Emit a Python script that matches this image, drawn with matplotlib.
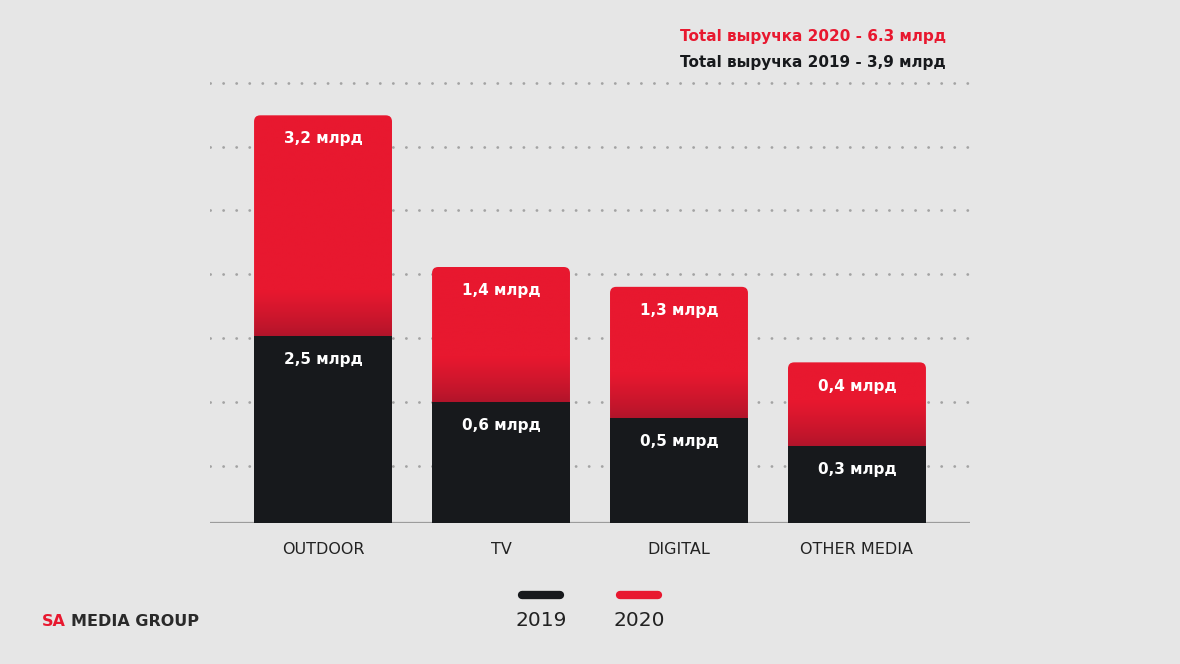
import matplotlib.pyplot as plt
import numpy as np
from matplotlib.patches import FancyBboxPatch, Rectangle
from matplotlib.lines import Line2D

# data (bar heights, in grid steps; labels as printed)
categories = ["OUTDOOR", "TV", "DIGITAL", "OTHER MEDIA"]
bar_2019 = [2.92, 1.89, 1.64, 1.20]
bar_2020 = [3.45, 2.11, 2.05, 1.31]
labels_2019 = ["2,5 млрд", "0,6 млрд", "0,5 млрд", "0,3 млрд"]
labels_2020 = ["3,2 млрд", "1,4 млрд", "1,3 млрд", "0,4 млрд"]
grid_levels = [0.89, 1.89, 2.89, 3.89, 4.89, 5.87, 6.87]
total_2020 = "Total выручка 2020 - 6.3 млрд"
total_2019 = "Total выручка 2019 - 3,9 млрд"
years = ["2019", "2020"]

bg = "#e6e6e6"
black = "#17191c"
red = "#e8182f"
dark_red = "#b0142a"

fig = plt.figure(figsize=(11.8, 6.64), dpi=100, facecolor=bg)
ax = fig.add_axes([210 / 1180, 141 / 664, 760 / 1180, 448 / 664])
ax.set_facecolor(bg)

x = np.arange(len(categories))
width = 0.775

# dotted grid
ax.hlines(grid_levels, -0.635, 3.635, colors="#a3a3a3", linewidth=2.0,
          linestyles=(0, (0.05, 4.65)), zorder=0)
for ln in ax.collections:
    ln.set_capstyle("round")
ax.axhline(0, color="#9c9c9c", linewidth=1.6, zorder=1)

# gradient for red segment (bottom dark -> top red)
n = 200
c_top = np.array(plt.matplotlib.colors.to_rgb(red))
c_bot = np.array(plt.matplotlib.colors.to_rgb(dark_red))

for i in range(len(categories)):
    b = bar_2019[i]
    top = b + bar_2020[i]
    x0 = x[i] - width / 2
    patch = FancyBboxPatch((x0, 0), width, top,
                           boxstyle="round,pad=0,rounding_size=0.035",
                           mutation_aspect=178 / 64, facecolor="none",
                           edgecolor="none", zorder=2)
    ax.add_patch(patch)
    h = bar_2020[i]
    frac = np.clip(np.linspace(0, h, n) / 0.7, 0, 1) ** 0.8
    cols = c_bot[None, :] * (1 - frac[:, None]) + c_top[None, :] * frac[:, None]
    img = ax.imshow(cols[:, None, :], extent=(x0, x0 + width, b, top),
                    origin="lower", aspect="auto", zorder=2,
                    interpolation="bilinear")
    img.set_clip_path(patch)
    ax.add_patch(Rectangle((x0, 0), width, b, facecolor=black,
                           edgecolor="none", zorder=3))
    ax.text(x[i], top - 0.37, labels_2020[i], ha="center", va="center",
            color="white", fontsize=11, fontweight="bold", zorder=4)
    ax.text(x[i], b - 0.37, labels_2019[i], ha="center", va="center",
            color="white", fontsize=11, fontweight="bold", zorder=4)

ax.set_xlim(-0.635, 3.635)
ax.set_ylim(0, 7.0)
ax.set_xticks(x)
ax.set_xticklabels(categories, fontsize=11.5, color="#222222")
ax.tick_params(axis="x", length=0, pad=14)
ax.set_yticks([])
for s in ax.spines.values():
    s.set_visible(False)

# totals
fig.text(946 / 1180, 1 - 37 / 664, total_2020, ha="right", va="center",
         color=red, fontsize=11, fontweight="bold")
fig.text(946 / 1180, 1 - 63 / 664, total_2019, ha="right", va="center",
         color=black, fontsize=11, fontweight="bold")

# legend
for cx, col, yr in [(541, black, years[0]), (639, red, years[1])]:
    fig.add_artist(Line2D([(cx - 19) / 1180, (cx + 19) / 1180],
                          [1 - 595 / 664, 1 - 595 / 664], color=col,
                          linewidth=6, solid_capstyle="round"))
    fig.text(cx / 1180, 1 - 620 / 664, yr, ha="center", va="center",
             color="#222222", fontsize=14.5)

# logo
fig.text(42 / 1180, 1 - 621 / 664, "SA", ha="left", va="center",
         color=red, fontsize=11.5, fontweight="bold")
fig.text(71 / 1180, 1 - 621 / 664, "MEDIA GROUP", ha="left", va="center",
         color="#2a2a2a", fontsize=11.5, fontweight="bold")

fig.savefig("out.png", dpi=100, facecolor=bg)
